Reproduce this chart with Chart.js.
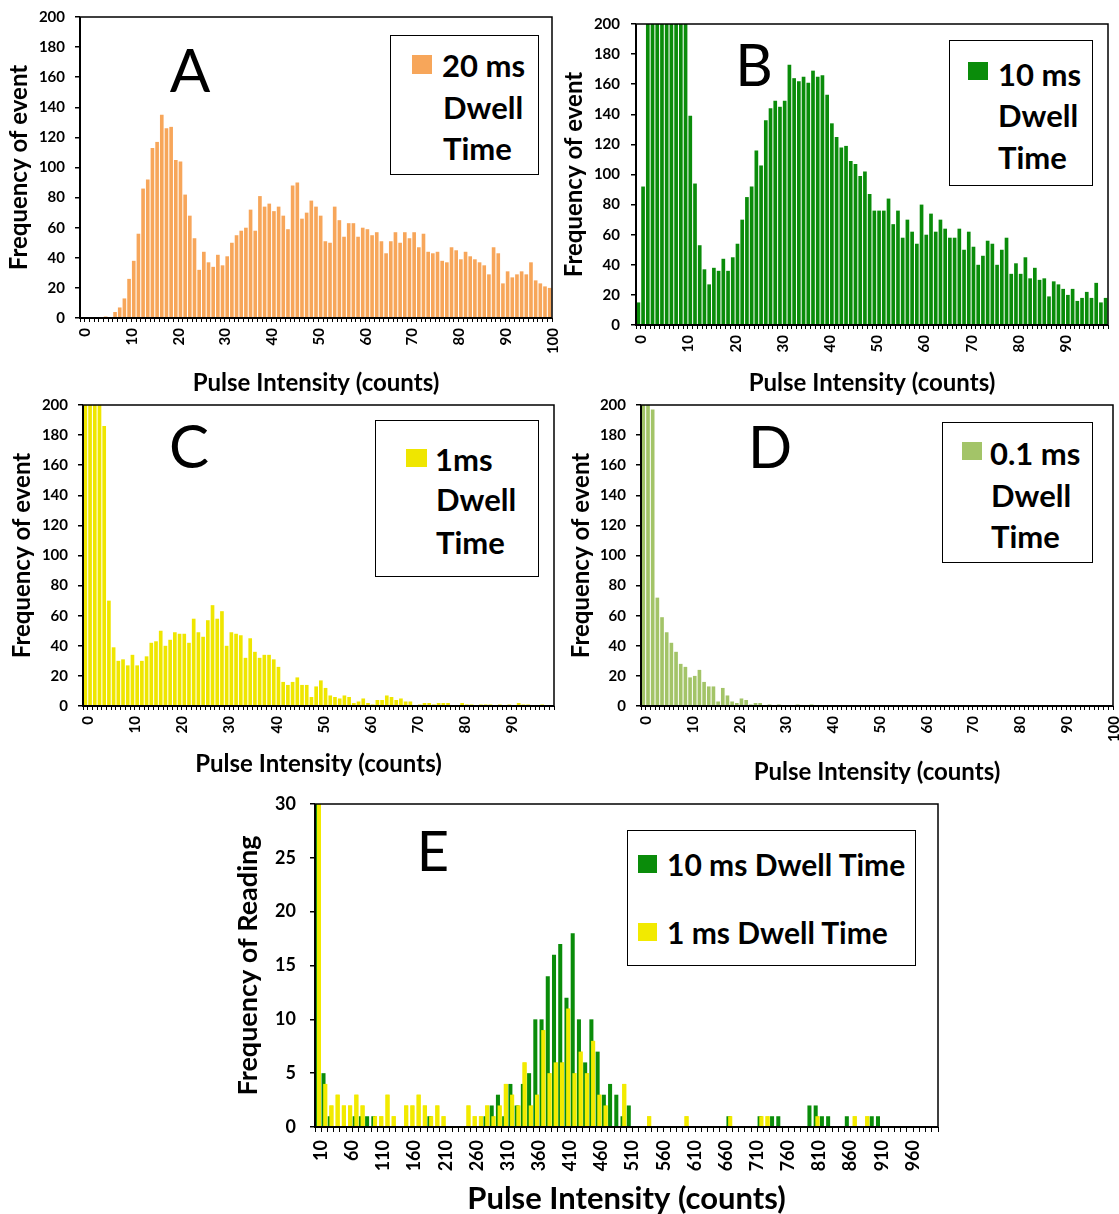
<!DOCTYPE html>
<html>
<head>
<meta charset="utf-8">
<script src="https://cdn.jsdelivr.net/npm/chart.js@4.4.0/dist/chart.umd.min.js"></script>
<style>
  html, body { margin: 0; padding: 0; background: #fff; }
  #page { position: relative; width: 1119px; height: 1214px; overflow: hidden; font-family: Lato, 'Open Sans', sans-serif; }
  #page canvas { position: absolute; }
  .txt { position: absolute; white-space: nowrap; color: #000; font-weight: bold; }
  .letter { position: absolute; white-space: nowrap; color: #000; font-weight: normal; }
  .box { position: absolute; border: 1.5px solid #000; background: #fff; box-sizing: border-box; }
  .sw { position: absolute; }
</style>
</head>
<body>
<div id="page">
  <canvas id="chartA" width="560" height="400" style="left:0;top:0"></canvas>
  <canvas id="chartB" width="559" height="400" style="left:560px;top:0"></canvas>
  <canvas id="chartC" width="560" height="400" style="left:0;top:395px"></canvas>
  <canvas id="chartD" width="559" height="400" style="left:560px;top:395px"></canvas>
  <canvas id="chartE" width="760" height="419" style="left:200px;top:795px"></canvas>
  <div id="overlay"></div>
</div>
<script>
"use strict";

// bins of pulse intensity (counts)
const steps = (from, to, by) => {
  const out = [];
  for (let v = from; v <= to; v += by) out.push(v);
  return out;
};
const binsA = steps(0, 100, 1);
const binsB = steps(0, 99, 1);
const binsC = steps(0, 99, 1);
const binsD = steps(0, 100, 1);
const binsE = steps(10, 1000, 10);

// A: 20 ms dwell time
const countsA = [0, 0, 0, 0, 0,
  1, 0, 4, 7, 13, 26, 38, 56, 86, 92, 113, 117, 135, 126, 127, 105, 104, 82, 68, 53,
  32, 44, 37, 34, 42, 35, 41, 50, 55, 58, 60, 72, 58, 81, 74, 76, 71, 74, 68, 59,
  88, 90, 66, 70, 78, 74, 68,
  51, 50, 74, 65, 54, 63, 63, 54, 60, 59, 55, 57, 51, 43, 51, 57, 50, 57, 53, 57,
  47, 56, 44, 43, 44, 38, 37, 47, 45, 39, 44, 41, 39, 37, 35, 29, 47, 43, 23, 31,
  27, 29, 31, 29, 37, 25, 23, 21, 20];

// B: 10 ms dwell time (bins 2-10 run off the top of the axis)
const countsB = [15, 92, 250, 250, 250, 250, 250, 250, 250, 250,
  250, 139, 94, 53, 37, 27, 38, 36, 44, 36,
  45, 54, 70, 85, 92, 116, 106, 136, 144, 149,
  145, 149, 173, 164, 162, 165, 161, 169, 165, 166,
  153, 134, 125, 118, 119, 109, 107, 99, 102, 87,
  76, 76, 76, 84, 67, 76, 58, 70, 62, 54,
  80, 60, 74, 62, 70, 64, 58, 58, 64, 50,
  62, 52, 40, 46, 56, 54, 40, 50, 58, 34,
  41, 34, 45, 31, 38, 30, 31, 19, 29, 27,
  24, 20, 24, 16, 18, 22, 18, 28, 15, 18];

// C: 1 ms dwell time
const countsC = [250, 250, 250, 250, 186, 70, 39, 30, 31, 27,
  34, 27, 30, 33, 42, 43, 50, 40, 44, 49,
  48, 48, 42, 58, 49, 46, 57, 67, 58, 63,
  40, 49, 48, 47, 32, 45, 36, 32, 34, 34,
  31, 26, 16, 14, 16, 19, 14, 14, 6, 13,
  17, 12, 7, 6, 5, 7, 6, 2, 3, 5,
  2, 1, 4, 4, 7, 6, 4, 5, 3, 3,
  0, 1, 2, 2, 1, 2, 2, 2, 0, 0,
  2, 1, 1, 0, 1, 1, 1, 0, 1, 0,
  1, 0, 2, 1, 1, 0, 0, 1, 0, 0];

// D: 0.1 ms dwell time
const countsD = [250, 205, 197, 72, 59, 49, 42, 36, 28, 26,
  19, 20, 24, 16, 13, 13, 3, 12, 7, 3,
  2, 5, 4, 1, 2, 2, 0, 1, 0, 1,
  0, 0, 0, 1, 0, 0, 1, 0, 0, 0,
  0, 0, 0, 0, 0, 0, 0, 0, 0, 0,
  0, 0, 0, 0, 0, 0, 0, 0, 0, 0,
  0, 0, 0, 0, 0, 0, 0, 0, 0, 0,
  0, 0, 0, 0, 0, 0, 0, 0, 0, 0,
  0, 0, 0, 0, 0, 0, 0, 0, 0, 0,
  0, 0, 0, 0, 0, 0, 0, 0, 0, 0, 0];

// E: frequency of reading
const readings10ms = [32, 5, 1, 0, 0, 0, 1, 1, 1, 1,
  0, 0, 0, 0, 0, 0, 0, 0, 1, 0,
  0, 0, 0, 0, 0, 0, 0, 1, 2, 3,
  1, 4, 2, 4, 5, 10, 10, 14, 16, 17,
  12, 18, 10, 6, 10, 7, 3, 4, 3, 1,
  2, 0, 0, 0, 0, 0, 0, 0, 0, 0,
  0, 0, 0, 0, 0, 0, 1, 0, 0, 0,
  0, 1, 0, 1, 1, 0, 0, 0, 0, 2,
  2, 1, 1, 0, 0, 1, 0, 0, 0, 1,
  1, 0, 0, 0, 0, 0, 0, 0, 0, 0];
const readings1ms = [35, 4, 2, 3, 2, 2, 3, 2, 0, 1,
  1, 3, 1, 0, 2, 2, 3, 2, 1, 2,
  1, 0, 0, 0, 2, 1, 1, 2, 1, 2,
  4, 3, 2, 6, 2, 3, 9, 5, 6, 6,
  11, 5, 7, 5, 8, 3, 2, 0, 0, 4,
  0, 0, 0, 1, 0, 0, 0, 0, 0, 1,
  0, 0, 0, 0, 0, 0, 1, 0, 0, 0,
  0, 1, 1, 0, 0, 0, 0, 0, 0, 0,
  1, 0, 0, 0, 0, 0, 1, 0, 1, 0,
  0, 0, 0, 0, 0, 0, 0, 0, 0, 0];

const FONT = 'Lato, "Open Sans", sans-serif';
const orange = '#F7A65A';
const green = '#0A8C0A';
const yellow = '#EFE600';
const olive = '#A3C468';

// plot-area box: heavy left/bottom axis, thinner top/right
const framePlugin = {
  id: 'frame',
  afterDatasetsDraw(chart) {
    const { ctx, chartArea: a } = chart;
    ctx.save();
    ctx.strokeStyle = '#000';
    ctx.lineWidth = 1.5;
    ctx.beginPath();
    ctx.moveTo(a.left, a.top);
    ctx.lineTo(a.right, a.top);
    ctx.lineTo(a.right, a.bottom);
    ctx.stroke();
    ctx.lineWidth = 2;
    ctx.beginPath();
    ctx.moveTo(a.left, a.top);
    ctx.lineTo(a.left, a.bottom);
    ctx.lineTo(a.right, a.bottom);
    ctx.stroke();
    ctx.restore();
  },
};

// the 1 ms series sits on top of the 10 ms one
const yellowOnTop = {
  id: 'yellowOnTop',
  afterDatasetsDraw(chart) {
    const { ctx, chartArea: a } = chart;
    ctx.save();
    ctx.beginPath();
    ctx.rect(a.left, a.top, a.right - a.left, a.bottom - a.top);
    ctx.clip();
    chart.getDatasetMeta(1).controller.draw();
    ctx.restore();
  },
};

const createPanel = (id, p) => {
  const canvas = document.getElementById(id);
  return new Chart(canvas, {
    type: 'bar',
    data: { labels: p.labels, datasets: p.datasets },
    options: {
      responsive: false,
      animation: false,
      events: [],
      layout: { padding: { top: p.padTop, right: p.padRight, left: 0, bottom: 0 } },
      datasets: { bar: { categoryPercentage: p.catPct, barPercentage: p.barPct } },
      plugins: { legend: { display: false }, tooltip: { enabled: false } },
      scales: {
        x: {
          grid: { offset: true, drawOnChartArea: false, drawTicks: true, tickLength: p.xTick, color: '#000', lineWidth: 1 },
          border: { display: false },
          ticks: {
            autoSkip: false,
            minRotation: 90,
            maxRotation: 90,
            padding: p.xPad,
            labelOffset: 3,
            color: '#000',
            font: { family: FONT, size: p.tickSize, weight: 'bold' },
            callback: function (value, index) {
              return index % p.every === 0 ? this.getLabelForValue(value) : '';
            },
          },
          title: {
            display: true,
            text: 'Pulse Intensity (counts)',
            color: '#000',
            font: { family: FONT, size: p.xTitleSize, weight: 'bold', lineHeight: p.xTitleLH },
            padding: { top: 0, bottom: p.xTitlePad },
          },
          afterFit: (s) => { s.height = p.xh; s.paddingLeft = 0; s.paddingRight = 0; },
        },
        y: {
          min: 0,
          max: p.yMax,
          grid: { drawOnChartArea: false, drawTicks: true, tickLength: 5, color: '#000', lineWidth: 1.5 },
          border: { display: false },
          ticks: {
            stepSize: p.yStep,
            padding: p.yPad,
            color: '#000',
            font: { family: FONT, size: p.tickSize, weight: 'bold' },
          },
          title: {
            display: true,
            text: p.yTitle,
            color: '#000',
            font: { family: FONT, size: p.yTitleSize, weight: 'bold' },
            padding: { top: p.yTitlePad, bottom: 0 },
          },
          afterFit: (s) => { s.width = p.yw; s.paddingTop = 0; s.paddingBottom = 0; },
        },
      },
    },
    plugins: p.plugins,
  });
};

const histogram = {
  catPct: 1, barPct: 0.78, xTick: 4, xPad: 6, every: 10,
  tickSize: 15, xTitleSize: 24, xTitleLH: 1.2, yMax: 200, yStep: 20,
  yTitle: 'Frequency of event', yTitleSize: 24,
  plugins: [framePlugin],
};

createPanel('chartA', Object.assign({}, histogram, {
  labels: binsA,
  datasets: [{ label: '20 ms Dwell Time', data: countsA, backgroundColor: orange }],
  padTop: 17, padRight: 8, yw: 80, xh: 82, yPad: 10, xTitlePad: 2.6, yTitlePad: 4.6,
}));

createPanel('chartB', Object.assign({}, histogram, {
  labels: binsB,
  datasets: [{ label: '10 ms Dwell Time', data: countsB, backgroundColor: green }],
  padTop: 24, padRight: 11, yw: 76, xh: 75, yPad: 11, xTitlePad: 2.6, yTitlePad: 0,
}));

createPanel('chartC', Object.assign({}, histogram, {
  labels: binsC,
  datasets: [{ label: '1ms Dwell Time', data: countsC, backgroundColor: yellow }],
  padTop: 10, padRight: 6, yw: 83, xh: 89, yPad: 10, xTitlePad: 16.6, yTitlePad: 7.6,
}));

createPanel('chartD', Object.assign({}, histogram, {
  labels: binsD,
  datasets: [{ label: '0.1 ms Dwell Time', data: countsD, backgroundColor: olive }],
  padTop: 10, padRight: 6, yw: 81, xh: 89, yPad: 10, xTitlePad: 8.6, yTitlePad: 6.6,
}));

createPanel('chartE', {
  labels: binsE,
  datasets: [
    { label: '10 ms Dwell Time', data: readings10ms, backgroundColor: green },
    { label: '1 ms Dwell Time', data: readings1ms, backgroundColor: '#F2EA00' },
  ],
  catPct: 0.54, barPct: 2.4, xTick: 5, xPad: 8, every: 5,
  tickSize: 18, xTitleSize: 31, xTitleLH: 1, yMax: 30, yStep: 5,
  yTitle: 'Frequency of Reading', yTitleSize: 27,
  padTop: 9, padRight: 22, yw: 115, xh: 87, yPad: 14, xTitlePad: 0, yTitlePad: 31.8,
  plugins: [yellowOnTop, framePlugin],
});

// panel letters and legend boxes
const overlay = document.getElementById('overlay');
const addText = (cls, text, x, baseline, size, align) => {
  const el = document.createElement('div');
  el.className = cls;
  el.textContent = text;
  el.style.fontSize = size + 'px';
  el.style.lineHeight = size + 'px';
  el.style.top = (baseline - 0.887 * size) + 'px';
  if (align === 'center') {
    el.style.left = (x - 200) + 'px';
    el.style.width = '400px';
    el.style.textAlign = 'center';
  } else {
    el.style.left = x + 'px';
  }
  overlay.appendChild(el);
};
const addBox = (x0, y0, x1, y1) => {
  const el = document.createElement('div');
  el.className = 'box';
  Object.assign(el.style, { left: x0 + 'px', top: y0 + 'px', width: (x1 - x0) + 'px', height: (y1 - y0) + 'px' });
  overlay.appendChild(el);
};
const addSwatch = (x0, y0, x1, y1, color) => {
  const el = document.createElement('div');
  el.className = 'sw';
  Object.assign(el.style, { left: x0 + 'px', top: y0 + 'px', width: (x1 - x0) + 'px', height: (y1 - y0) + 'px', background: color });
  overlay.appendChild(el);
};

addText('letter', 'A', 190, 92, 60, 'center');
addText('letter', 'B', 754, 86, 58, 'center');
addText('letter', 'C', 189, 468, 60, 'center');
addText('letter', 'D', 770, 468, 58, 'center');
addText('letter', 'E', 433, 872, 56, 'center');

addBox(390, 35, 539, 175);
addSwatch(412, 55, 432, 74, orange);
addText('txt', '20 ms', 442, 77, 31);
addText('txt', 'Dwell', 443, 119, 31);
addText('txt', 'Time', 443, 160, 31);

addBox(949, 40, 1093, 186);
addSwatch(968, 62, 988, 80, green);
addText('txt', '10 ms', 998, 86, 31);
addText('txt', 'Dwell', 998, 127, 31);
addText('txt', 'Time', 998, 169, 31);

addBox(375, 420, 539, 577);
addSwatch(406, 449, 427, 467, yellow);
addText('txt', '1ms', 435, 471, 31);
addText('txt', 'Dwell', 436, 511, 31);
addText('txt', 'Time', 436, 554, 31);

addBox(942, 422, 1093, 563);
addSwatch(962, 442, 982, 460, olive);
addText('txt', '0.1 ms', 990, 465, 31);
addText('txt', 'Dwell', 991, 507, 31);
addText('txt', 'Time', 991, 548, 31);

addBox(627, 830, 916, 966);
addSwatch(638, 855, 657, 873, green);
addText('txt', '10 ms Dwell Time', 667, 876, 30);
addSwatch(638, 923, 657, 941, '#F2EA00');
addText('txt', '1 ms Dwell Time', 667, 944, 30);
</script>
</body>
</html>
